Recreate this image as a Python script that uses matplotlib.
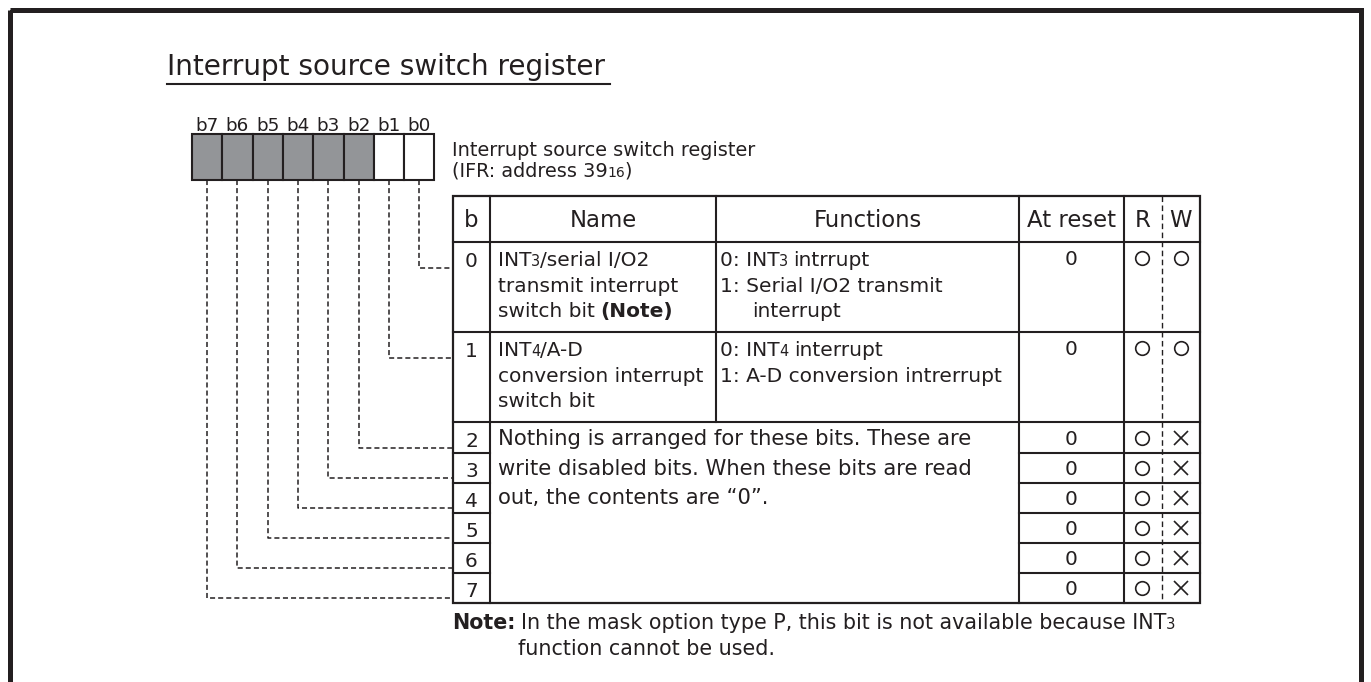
import matplotlib.pyplot as plt
from matplotlib.patches import Rectangle

plt.rcParams['font.family'] = ['DejaVu Sans']

INK = '#231f20'
GRAY = '#939598'

# ---- content ----
title = 'Interrupt source switch register'
bit_labels = ['b7', 'b6', 'b5', 'b4', 'b3', 'b2', 'b1', 'b0']
bit_shaded = [True, True, True, True, True, True, False, False]
caption = [[('Interrupt source switch register', 'n')],
           [('(IFR: address 39', 'n'), ('16', 's'), (')', 'n')]]

headers = ['b', 'Name', 'Functions', 'At reset', 'R', 'W']
row_bits = ['0', '1', '2', '3', '4', '5', '6', '7']
at_reset = ['0', '0', '0', '0', '0', '0', '0', '0']
read_mark = ['o', 'o', 'o', 'o', 'o', 'o', 'o', 'o']
write_mark = ['o', 'o', 'x', 'x', 'x', 'x', 'x', 'x']

name_text = [
    [[('INT', 'n'), ('3', 's'), ('/serial I/O2', 'n')],
     [('transmit interrupt', 'n')],
     [('switch bit', 'n'), (' (Note)', 'b')]],
    [[('INT', 'n'), ('4', 's'), ('/A-D', 'n')],
     [('conversion interrupt', 'n')],
     [('switch bit', 'n')]],
]
func_text = [
    [[('0: INT', 'n'), ('3', 's'), (' intrrupt', 'n')],
     [('1: Serial I/O2 transmit', 'n')],
     [('      interrupt', 'n')]],
    [[('0: INT', 'n'), ('4', 's'), (' interrupt', 'n')],
     [('1: A-D conversion intrerrupt', 'n')]],
]
merged_text = ['Nothing is arranged for these bits. These are',
               'write disabled bits. When these bits are read',
               'out, the contents are \u201c0\u201d.']
note_text = [[('Note:', 'b'), (' In the mask option type P, this bit is not available because INT', 'n'), ('3', 's')],
             [('function cannot be used.', 'n')]]

# ---- layout (pixels) ----
W, H = 1371, 682
box_x0, box_w, box_top, box_bot = 192, 30.3, 134, 180
cols = [453, 490, 716, 1019, 1124, 1162, 1200]
head_top, head_bot = 196, 242
row_edges = [242, 332, 422, 453, 483, 513, 543, 573, 603]
body_fs = 14.5
wide_fs = 15.2
note_fs = 14.9
head_fs = 16.4

fig = plt.figure(figsize=(W / 100, H / 100), dpi=100)
ax = fig.add_axes([0, 0, 1, 1])
ax.set_xlim(0, W)
ax.set_ylim(H, 0)
ax.axis('off')
renderer = fig.canvas.get_renderer()


def base(yc, fs):
    # baseline for a line whose capitals are centred on yc
    return yc + 0.364 * fs / 0.72


def runs(x, yc, parts, fs):
    y = base(yc, fs)
    for s, st in parts:
        size = fs * (0.72 if st == 's' else 1.0)
        n = len(s) - len(s.lstrip(' '))
        x += n * 0.27 * fs / 0.72
        t = ax.text(x, y, s.lstrip(' '), fontsize=size, color=INK, va='baseline', ha='left',
                    fontweight='bold' if st == 'b' else 'normal')
        x = t.get_window_extent(renderer).x1 - 0.3


def line(xs, ys, lw=1.5, ls='-'):
    ax.plot(xs, ys, color=INK, lw=lw, ls=ls, solid_capstyle='projecting')


# outer frame
ax.add_patch(Rectangle((10, 10), W - 20, H + 40, fill=False, ec=INK, lw=3.6))

# title
ax.text(167, 75, title, fontsize=20.1, color=INK, va='baseline')
line([167, 610], [84, 84], lw=1.5)

# register boxes
for i, (lab, sh) in enumerate(zip(bit_labels, bit_shaded)):
    x = box_x0 + i * box_w
    ax.add_patch(Rectangle((x, box_top), box_w, box_bot - box_top,
                           fc=GRAY if sh else 'white', ec=INK, lw=1.5))
    ax.text(x + box_w / 2, 131, lab, fontsize=13.2, color=INK, ha='center', va='baseline')

runs(452, 148.5, caption[0], 13.9)
runs(452, 169.5, caption[1], 13.9)

# table frame
ax.add_patch(Rectangle((cols[0], head_top), cols[-1] - cols[0], row_edges[-1] - head_top,
                       fill=False, ec=INK, lw=1.6))
line([cols[1]] * 2, [head_top, row_edges[-1]])
line([cols[2]] * 2, [head_top, row_edges[2]])
line([cols[3]] * 2, [head_top, row_edges[-1]])
line([cols[4]] * 2, [head_top, row_edges[-1]])
line([cols[5]] * 2, [head_top, row_edges[-1]], lw=1.0, ls=(0, (4, 2.5)))
for k, y in enumerate(row_edges[:-1]):
    if k <= 2:
        line([cols[0], cols[-1]], [y, y])
    else:
        line([cols[0], cols[1]], [y, y])
        line([cols[3], cols[-1]], [y, y])

# header
head_x = [(cols[i] + cols[i + 1]) / 2 for i in range(6)]
for hx, h in zip(head_x, headers):
    ax.text(hx, base(219, head_fs), h, fontsize=head_fs, color=INK, ha='center', va='baseline')

# rows
for r in range(8):
    top, bot = row_edges[r], row_edges[r + 1]
    yc = top + 16 if r < 2 else (top + bot) / 2
    ax.text(head_x[0], base(yc + 2, body_fs), row_bits[r], fontsize=body_fs, color=INK,
            ha='center', va='baseline')
    ax.text(head_x[3], base(yc, body_fs), at_reset[r], fontsize=body_fs, color=INK,
            ha='center', va='baseline')
    for cx, m in ((head_x[4] - 1, read_mark[r]), (head_x[5], write_mark[r])):
        ax.plot([cx], [yc], marker=m, ms=9.8 if m == 'o' else 9.4, mfc='none', mec=INK, mew=1.2)

    # connector from register bit
    n = int(row_bits[r])
    bx = box_x0 + (7 - n + 0.5) * box_w
    cy = top + 26 if r < 2 else bot - 5
    line([bx, bx, cols[0]], [box_bot, cy, cy], lw=1.1, ls=(0, (3.3, 2.0)))

for r in range(2):
    top = row_edges[r]
    for j, parts in enumerate(name_text[r]):
        runs(498, top + 17 + j * 25.5, parts, body_fs)
    for j, parts in enumerate(func_text[r]):
        runs(720, top + 17 + j * 25.5, parts, body_fs)

for j, s in enumerate(merged_text):
    runs(498, 437.5 + j * 29.5, [(s, 'n')], wide_fs)

runs(452, 621, note_text[0], note_fs)
runs(518, 647, note_text[1], note_fs)

fig.savefig('out.png', dpi=100)
